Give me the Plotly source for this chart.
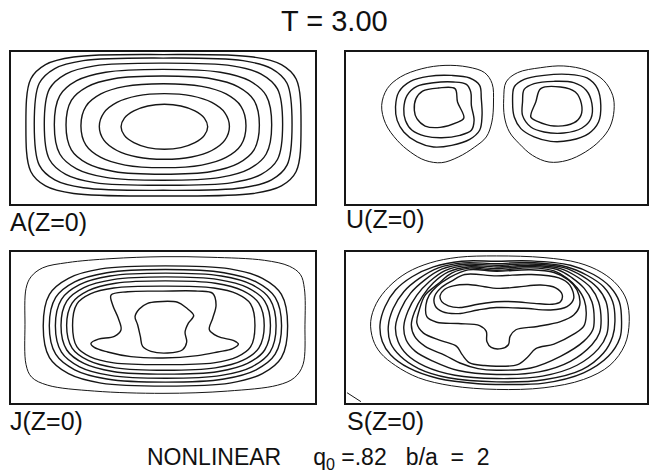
import plotly.graph_objects as go

# ---------------- text ----------------
TITLE = "T = 3.00"
NB = "\u00a0"
FOOTER = ("NONLINEAR" + NB * 5 + "q<sub>0</sub>" + NB + "=.82" + NB * 3
          + "b/a" + NB * 2 + "=" + NB * 2 + "2")
PANEL_LABELS = ["A(Z=0)", "U(Z=0)", "J(Z=0)", "S(Z=0)"]

# domain of every panel: x in [0, 2] (b/a = 2), y in [0, 1]
X_RANGE = [0, 2]
Y_RANGE = [0, 1]

# ---------------- panel A : contour lines (traced) ----------------
A_X = [
    [1.294, 1.272, 1.210, 1.118, 1.009, .900, .808, .746, .724, .746, .808, .900, 1.009, 1.118, 1.210, 1.272],
    [1.437, 1.407, 1.321, 1.188, 1.009, .830, .697, .611, .581, .611, .697, .830, 1.009, 1.188, 1.321, 1.407],
    [1.546, 1.513, 1.415, 1.255, 1.003, .751, .591, .493, .460, .493, .591, .751, 1.003, 1.255, 1.415, 1.513],
    [1.634, 1.599, 1.495, 1.319, .998, .677, .501, .397, .362, .397, .501, .677, .998, 1.319, 1.495, 1.599],
    [1.715, 1.679, 1.568, 1.377, 1.0, .623, .432, .321, .285, .321, .432, .623, 1.0, 1.377, 1.568, 1.679],
    [1.787, 1.753, 1.646, 1.456, 1.003, .550, .360, .253, .219, .253, .360, .550, 1.003, 1.456, 1.646, 1.753],
    [1.849, 1.816, 1.714, 1.526, 1.001, .476, .288, .186, .153, .186, .288, .476, 1.001, 1.526, 1.714, 1.816],
    [1.908, 1.876, 1.779, 1.594, 1.003, .412, .227, .130, .098, .130, .227, .412, 1.003, 1.594, 1.779, 1.876],
]
A_Y = [
    [.508, .565, .613, .645, .656, .645, .613, .565, .508, .451, .403, .371, .360, .371, .403, .451],
    [.510, .600, .668, .711, .726, .711, .668, .600, .510, .420, .352, .309, .294, .309, .352, .420],
    [.515, .643, .724, .774, .791, .774, .724, .643, .515, .387, .306, .256, .239, .256, .306, .387],
    [.519, .682, .771, .824, .842, .824, .771, .682, .519, .356, .267, .214, .196, .214, .267, .356],
    [.521, .713, .811, .867, .886, .867, .811, .713, .521, .329, .231, .175, .156, .175, .231, .329],
    [.525, .757, .855, .909, .927, .909, .855, .757, .525, .293, .195, .141, .123, .141, .195, .293],
    [.525, .794, .891, .943, .960, .943, .891, .794, .525, .256, .159, .107, .090, .107, .159, .256],
    [.518, .822, .917, .967, .983, .967, .917, .822, .518, .214, .119, .069, .053, .069, .119, .214],
]

# ---------------- panel U ----------------
U_X = [
    [.237, .274, .362, .504, .658, .811, .921, .971, .980, .969, .932, .855, .746, .636, .526, .428, .340, .263],
    [.329, .351, .428, .548, .702, .822, .888, .899, .904, .888, .822, .702, .581, .471, .384, .340],
    [.384, .406, .471, .581, .713, .800, .829, .833, .851, .833, .757, .636, .526, .439, .395],
    [.454, .465, .509, .614, .724, .741, .783, .735, .625, .526, .471],
    [1.048, 1.064, 1.140, 1.294, 1.447, 1.601, 1.711, 1.772, 1.781, 1.754, 1.689, 1.590, 1.469, 1.349, 1.239, 1.151, 1.086, 1.053],
    [1.107, 1.118, 1.184, 1.316, 1.469, 1.601, 1.671, 1.693, 1.678, 1.612, 1.491, 1.360, 1.250, 1.162, 1.118],
    [1.173, 1.184, 1.250, 1.382, 1.513, 1.596, 1.634, 1.627, 1.568, 1.447, 1.316, 1.228, 1.173],
    [1.294, 1.425, 1.524, 1.564, 1.561, 1.513, 1.382, 1.272, 1.228, 1.261],
]
U_Y = [
    [.649, .759, .836, .890, .912, .901, .864, .792, .671, .539, .441, .375, .309, .272, .287, .342, .419, .529],
    [.638, .737, .807, .840, .846, .829, .781, .693, .583, .485, .425, .386, .375, .408, .474, .550],
    [.627, .715, .774, .798, .803, .787, .737, .649, .550, .485, .452, .436, .447, .485, .550],
    [.616, .693, .743, .763, .759, .671, .566, .535, .504, .513, .561],
    [.693, .803, .864, .897, .908, .879, .814, .715, .616, .507, .419, .342, .287, .276, .320, .397, .474, .572],
    [.671, .770, .820, .846, .853, .829, .759, .649, .539, .463, .419, .412, .441, .496, .572],
    [.671, .754, .792, .807, .798, .748, .660, .561, .500, .467, .474, .507, .583],
    [.759, .770, .737, .660, .583, .533, .513, .544, .572, .671],
]
U_THIN = [0, 4]

# ---------------- panel J ----------------
J_X = [
    [1.934, 1.930, 1.904, 1.831, 1.667, 1.316, 1.0, .658, .373, .208, .132, .099, .092, .099, .136, .241, .548, 1.0, 1.425, 1.754, 1.864, 1.921],
    [1.820, 1.779, 1.654, 1.440, 1.016, .592, .378, .253, .212, .253, .378, .592, 1.016, 1.440, 1.654, 1.779],
    [1.780, 1.738, 1.613, 1.401, 1.016, .631, .419, .294, .252, .294, .419, .631, 1.016, 1.401, 1.613, 1.738],
    [1.744, 1.704, 1.585, 1.384, 1.018, .652, .451, .332, .292, .332, .451, .652, 1.018, 1.384, 1.585, 1.704],
    [1.707, 1.669, 1.556, 1.365, 1.018, .671, .480, .367, .329, .367, .480, .671, 1.018, 1.365, 1.556, 1.669],
    [1.666, 1.630, 1.524, 1.344, 1.016, .688, .508, .402, .366, .402, .508, .688, 1.016, 1.344, 1.524, 1.630],
    [1.605, 1.576, 1.488, 1.334, 1.005, .676, .522, .434, .405, .434, .522, .676, 1.005, 1.334, 1.488, 1.576],
    [.658, .768, 1.0, 1.228, 1.327, 1.349, 1.327, 1.305, 1.360, 1.469, 1.496, 1.458, 1.360, 1.228, 1.0, .789, .636, .548, .526, .575, .680, .724, .706, .669],
    [.899, .965, 1.096, 1.151, 1.202, 1.167, 1.145, 1.156, 1.129, 1.031, .921, .866, .851, .833, .816, .844],
]
J_Y = [
    [.518, .759, .851, .906, .945, .965, .969, .956, .930, .895, .836, .759, .518, .254, .171, .118, .079, .064, .079, .118, .167, .254],
    [.510, .720, .826, .888, .908, .888, .826, .720, .510, .300, .194, .132, .112, .132, .194, .300],
    [.511, .699, .802, .863, .884, .863, .802, .699, .511, .323, .220, .159, .138, .159, .220, .323],
    [.512, .687, .784, .841, .860, .841, .784, .687, .512, .337, .240, .183, .164, .183, .240, .337],
    [.513, .675, .764, .817, .835, .817, .764, .675, .513, .351, .262, .209, .191, .209, .262, .351],
    [.513, .662, .744, .793, .809, .793, .744, .662, .513, .364, .282, .233, .217, .233, .282, .364],
    [.514, .657, .723, .762, .774, .762, .723, .657, .514, .371, .305, .266, .254, .266, .305, .371],
    [.715, .737, .741, .741, .726, .649, .561, .485, .441, .412, .390, .360, .338, .314, .298, .307, .338, .368, .395, .423, .441, .485, .561, .649],
    [.660, .671, .667, .632, .579, .529, .469, .404, .353, .331, .342, .375, .441, .518, .572, .623],
]
J_THIN = [0]

# ---------------- panel S ----------------
S_X = [
    [1.882, 1.864, 1.803, 1.700, 1.546, 1.316, 1.0, .746, .559, .406, .285, .202, .164, .180, .230, .329, .482, .702, 1.0, 1.316, 1.579, 1.754, 1.853],
    [1.831, 1.816, 1.754, 1.645, 1.491, 1.228, 1.0, .768, .581, .439, .329, .259, .226, .241, .296, .417, .614, .877, 1.0, 1.316, 1.579, 1.743, 1.820],
    [1.787, 1.772, 1.711, 1.601, 1.469, 1.228, 1.0, .779, .614, .487, .384, .314, .281, .296, .362, .482, .680, 1.0, 1.316, 1.568, 1.711, 1.772],
    [1.743, 1.728, 1.671, 1.568, 1.447, 1.228, 1.0, .789, .636, .522, .428, .362, .329, .346, .406, .526, .724, 1.0, 1.305, 1.535, 1.678, 1.732],
    [1.695, 1.678, 1.627, 1.535, 1.425, 1.228, 1.0, .800, .658, .553, .471, .412, .384, .399, .461, .581, .746, 1.0, 1.283, 1.491, 1.634, 1.684],
    [1.649, 1.634, 1.583, 1.502, 1.404, 1.228, 1.0, .811, .680, .581, .509, .456, .434, .456, .526, .658, .757, .877, 1.0, 1.228, 1.425, 1.579, 1.640],
    [1.596, 1.583, 1.535, 1.469, 1.382, 1.228, 1.0, .822, .702, .610, .526, .487, .471, .515, .636, .735, .772, .822, .921, 1.0, 1.140, 1.206, 1.261, 1.382, 1.513, 1.579],
    [1.553, 1.535, 1.480, 1.382, 1.228, 1.0, .811, .684, .603, .553, .531, .537, .603, .746, .888, .932, .936, .965, 1.031, 1.079, 1.090, 1.129, 1.272, 1.425, 1.513],
    [1.513, 1.487, 1.414, 1.228, 1.0, .789, .702, .632, .588, .592, .640, .746, .877, 1.0, 1.184, 1.360, 1.469],
    [.625, .654, .713, .811, .921, 1.0, 1.140, 1.294, 1.393, 1.436, 1.425, 1.371, 1.250, 1.118, 1.0, .877, .757, .680, .636],
]
S_Y = [
    [.539, .682, .781, .864, .928, .963, .974, .965, .928, .864, .770, .660, .539, .419, .331, .248, .167, .114, .090, .101, .156, .250, .386],
    [.539, .671, .770, .851, .912, .941, .939, .939, .901, .836, .748, .638, .518, .408, .320, .232, .162, .127, .123, .132, .200, .309, .430],
    [.539, .671, .770, .846, .901, .930, .923, .928, .895, .825, .737, .627, .507, .397, .309, .228, .167, .140, .154, .221, .331, .441],
    [.550, .671, .763, .842, .897, .921, .912, .919, .886, .814, .726, .616, .507, .408, .320, .243, .184, .162, .178, .250, .360, .452],
    [.550, .671, .763, .836, .890, .912, .901, .910, .877, .803, .715, .610, .507, .419, .342, .276, .215, .189, .206, .276, .386, .463],
    [.561, .671, .759, .829, .884, .904, .890, .901, .868, .796, .708, .605, .518, .441, .375, .316, .265, .228, .217, .232, .309, .408, .485],
    [.583, .682, .763, .825, .875, .895, .879, .893, .860, .787, .715, .616, .529, .463, .412, .375, .320, .265, .248, .243, .254, .303, .360, .390, .456, .507],
    [.649, .748, .814, .864, .882, .873, .882, .829, .772, .715, .649, .572, .535, .526, .513, .474, .408, .368, .360, .386, .441, .485, .507, .539, .583],
    [.693, .781, .829, .851, .842, .851, .807, .763, .704, .645, .605, .592, .616, .632, .627, .616, .638],
    [.711, .752, .776, .785, .770, .759, .768, .781, .763, .719, .671, .654, .660, .671, .671, .654, .632, .643, .671],
]
S_THIN = [0]
S_CORNER_X = [.007, .099]
S_CORNER_Y = [.068, .009]

# ---------------- figure ----------------
INK = "#161616"
fig = go.Figure()

panels = [
    (A_X, A_Y, [], "x", "y"),
    (U_X, U_Y, U_THIN, "x2", "y2"),
    (J_X, J_Y, J_THIN, "x3", "y3"),
    (S_X, S_Y, S_THIN, "x4", "y4"),
]
for xs_list, ys_list, thin, xa, ya in panels:
    for i, (xs, ys) in enumerate(zip(xs_list, ys_list)):
        fig.add_trace(go.Scatter(
            x=list(xs) + [xs[0]], y=list(ys) + [ys[0]],
            mode="lines",
            line=dict(shape="spline", smoothing=1.0, color=INK,
                      width=1.0 if i in thin else 1.4),
            xaxis=xa, yaxis=ya, hoverinfo="skip", showlegend=False,
        ))

fig.add_trace(go.Scatter(
    x=S_CORNER_X, y=S_CORNER_Y, mode="lines",
    line=dict(color=INK, width=1.0), xaxis="x4", yaxis="y4",
    hoverinfo="skip", showlegend=False,
))

W, H = 649, 475
LEFT_X = [11 / W, 315 / W]
RIGHT_X = [346 / W, 647 / W]
TOP_Y = [1 - 204 / H, 1 - 52 / H]
BOT_Y = [1 - 403 / H, 1 - 252 / H]


def ax(domain, rng, anchor):
    return dict(domain=domain, range=rng, anchor=anchor, showgrid=False,
                zeroline=False, showticklabels=False, ticks="",
                showline=True, mirror=True, linecolor=INK, linewidth=2,
                fixedrange=True)


fig.update_layout(
    width=W, height=H,
    margin=dict(l=0, r=0, t=0, b=0),
    paper_bgcolor="white", plot_bgcolor="white",
    showlegend=False,
    xaxis=ax(LEFT_X, X_RANGE, "y"), yaxis=ax(TOP_Y, Y_RANGE, "x"),
    xaxis2=ax(RIGHT_X, X_RANGE, "y2"), yaxis2=ax(TOP_Y, Y_RANGE, "x2"),
    xaxis3=ax(LEFT_X, X_RANGE, "y3"), yaxis3=ax(BOT_Y, Y_RANGE, "x3"),
    xaxis4=ax(RIGHT_X, X_RANGE, "y4"), yaxis4=ax(BOT_Y, Y_RANGE, "x4"),
    font=dict(family="Liberation Sans, Arial, sans-serif", color="#111"),
)

label_pos = [(8 / W, 1 - 222 / H), (344 / W, 1 - 219 / H),
             (8 / W, 1 - 421 / H), (345 / W, 1 - 421 / H)]
annotations = [dict(text=TITLE, x=334 / W, y=1 - 21 / H, xref="paper", yref="paper",
                    xanchor="center", yanchor="middle", showarrow=False,
                    font=dict(size=29))]
for lab, (lx, ly) in zip(PANEL_LABELS, label_pos):
    annotations.append(dict(text=lab, x=lx, y=ly, xref="paper", yref="paper",
                            xanchor="left", yanchor="middle", showarrow=False,
                            font=dict(size=25)))
annotations.append(dict(text=FOOTER, x=318 / W, y=1 - 458 / H, xref="paper", yref="paper",
                        xanchor="center", yanchor="middle", showarrow=False,
                        font=dict(size=23)))
fig.update_layout(annotations=annotations)

fig.write_html(
    "out.html",
    config={"displayModeBar": False, "staticPlot": True},
    post_script="document.body.style.margin='0';document.body.style.padding='0';"
                "document.documentElement.style.overflow='hidden';",
)
